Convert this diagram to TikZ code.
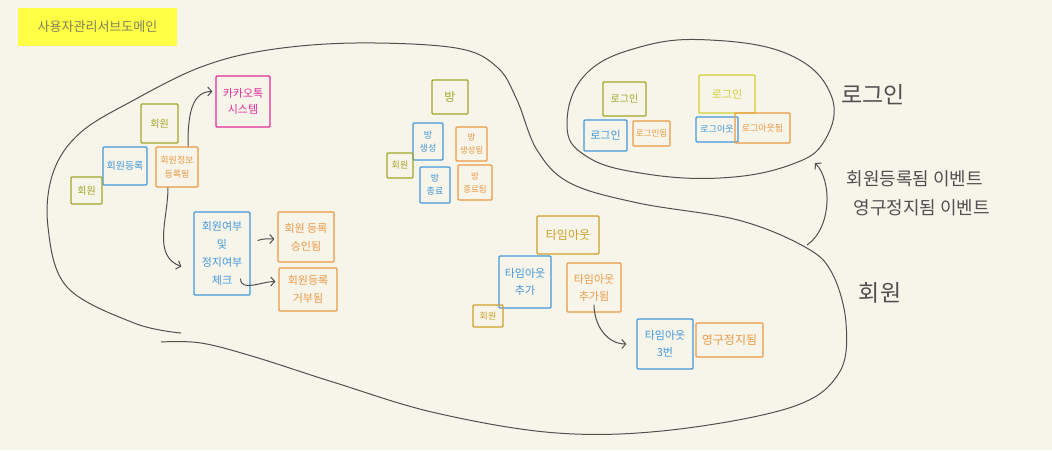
\documentclass[tikz,border=0pt]{standalone}
\usepackage{fontspec}
\setmainfont{Noto Sans CJK KR}
\usetikzlibrary{positioning,arrows.meta}
\definecolor{paper}{RGB}{247,244,233}
\definecolor{aggrolive}{RGB}{162,166,40}
\definecolor{lemon}{RGB}{208,208,52}
\definecolor{gold}{RGB}{206,160,40}
\definecolor{cmdblue}{RGB}{66,152,220}
\definecolor{evorange}{RGB}{236,154,70}
\definecolor{extpink}{RGB}{226,44,156}
\definecolor{pen}{RGB}{80,80,80}
\definecolor{sticky}{RGB}{255,255,70}
\definecolor{stickytext}{RGB}{128,128,92}
\tikzset{>={Straight Barb[length=4pt,width=9pt]}}
\newcommand*{\fs}[2]{\fontsize{#1}{#2}\selectfont}
\tikzset{
  note/.style={draw,align=center,inner sep=1pt,line width=1.2pt,rounded corners=1pt,font=\fs{10}{12}},
  aggr/.style={note,draw=aggrolive,text=aggrolive},
  cmd/.style={note,draw=cmdblue,text=cmdblue},
  evt/.style={note,draw=evorange,text=evorange},
  ext/.style={note,draw=extpink,text=extpink},
  pencil/.style={draw=pen,line width=1pt},
}

\begin{document}
\begin{tikzpicture}[x=1pt,y=-1pt]
\useasboundingbox[fill=paper] (0,0) rectangle (1052,450);
\fill[sticky] (18,8) rectangle (177,46);
\node[text=stickytext,font=\fs{13}{15}] (title) at (97.5,27) {사용자관리서브도메인};
% bounded contexts
\draw[pencil] plot[smooth,tension=0.6] coordinates {(181,333) (134,323) (67,287) (48,227) (53,173) (80,133) (134,100) (201,67) (268,50) (356,43) (456,48) (497,67) (517,100) (537,150) (570,183) (638,203) (738,220) (805,247) (832,273) (846,323) (839,373) (792,407) (671,430) (557,433) (436,413) (336,383) (255,357) (201,343) (161,342)};
\draw[pencil] plot[smooth cycle,tension=0.7] coordinates {(567,125) (585,75) (640,47) (710,40) (790,55) (831,95) (825,140) (790,165) (720,178) (640,173) (586,156)};
\node[text=pen,font=\fs{23}{25}] (lblLogin) at (873,95) {로그인};
\node[text=pen,font=\fs{23}{25}] (lblMember) at (880,293) {회원};
\coordinate (evFrom) at (807,245);
\coordinate (evTo) at (815,163);
\draw[pencil,->] (evFrom) .. controls (832,228) and (832,180) .. (evTo);
\node[text=pen,font=\fs{18}{20},anchor=west] (evList1) at (843,179) {회원등록됨 이벤트};
\node[text=pen,font=\fs{18}{20},anchor=west] (evList2) at (850,208) {영구정지됨 이벤트};
% member
\node[aggr,minimum width=37,minimum height=39] (agMember) at (159.5,123.5) {회원};
\node[cmd,minimum width=44,minimum height=38] (cmdRegister) at (125,166) {회원등록};
\node[evt,minimum width=42,minimum height=40,font=\fs{9}{14}] (evRegistered) at (177,167) {회원정보\\등록됨};
\node[aggr,minimum width=31,minimum height=27] (actMember) at (86.5,190.5) {회원};
\node[ext,minimum width=54,minimum height=51,font=\fs{11}{16}] (extKakao) at (243,101.5) {카카오톡\\시스템};
\node[cmd,minimum width=56,minimum height=83,font=\fs{11}{18}] (cmdCheck) at (222,253.5) {회원여부\\및\\정지여부\\체크};
\node[evt,minimum width=56,minimum height=50,font=\fs{11}{18}] (evApproved) at (306,237) {회원 등록\\승인됨};
\node[evt,minimum width=58,minimum height=43,font=\fs{11}{18}] (evRejected) at (308,289.5) {회원등록\\거부됨};
\draw[pencil,->] ([xshift=11]evRegistered.north) to[out=90,in=180] ([xshift=-3,yshift=10]extKakao.west);
\draw[pencil,->] ([xshift=-9]evRegistered.south) to[out=-90,in=160] ([xshift=-12,yshift=-13]cmdCheck.west);
\draw[pencil,->] ([shift={(7,-13)}]cmdCheck.east) to[out=20,in=180] ([xshift=-3,yshift=-2]evApproved.west);
\draw[pencil,->] ([shift={(-10,-17)}]cmdCheck.south east) to[out=-90,in=180] ([xshift=-3,yshift=8]evRejected.west);
% room
\node[aggr,minimum width=36,minimum height=34,font=\fs{12}{14}] (agRoom) at (450,97) {방};
\node[cmd,minimum width=30,minimum height=37,font=\fs{9}{13}] (cmdRoomCreate) at (428,141.5) {방\\생성};
\node[evt,minimum width=31,minimum height=34,font=\fs{8.5}{13}] (evRoomCreated) at (471.5,144) {방\\생성됨};
\node[aggr,minimum width=26,minimum height=25,font=\fs{9}{10}] (actMember2) at (400,165.5) {회원};
\node[cmd,minimum width=30,minimum height=36,font=\fs{9}{13}] (cmdRoomClose) at (435,185) {방\\종료};
\node[evt,minimum width=34,minimum height=35,font=\fs{8.5}{13}] (evRoomClosed) at (475,182.5) {방\\종료됨};
% timeout
\node[note,draw=gold,text=gold,minimum width=62,minimum height=38,font=\fs{12}{14}] (agTimeout) at (568,235) {타임아웃};
\node[cmd,minimum width=52,minimum height=52,font=\fs{11}{17}] (cmdTimeoutAdd) at (525,282) {타임아웃\\추가};
\node[note,draw=gold,text=gold,minimum width=30,minimum height=22,font=\fs{9}{10}] (actMember3) at (488,316) {회원};
\node[evt,minimum width=54,minimum height=49,font=\fs{11}{17}] (evTimeoutAdded) at (594,287.5) {타임아웃\\추가됨};
\node[cmd,minimum width=56,minimum height=50,font=\fs{11}{17}] (cmdTimeout3) at (665,344) {타임아웃\\3번};
\node[evt,minimum width=67,minimum height=34,font=\fs{12}{14}] (evBanned) at (729.5,340) {영구정지됨};
\draw[pencil,->] ([yshift=8]evTimeoutAdded.south) to[out=-90,in=180] ([xshift=-10]cmdTimeout3.west);
% login
\node[aggr,minimum width=43,minimum height=34] (agLogin) at (624.5,99) {로그인};
\node[cmd,minimum width=43,minimum height=31,font=\fs{11}{13}] (cmdLogin) at (605.5,135.5) {로그인};
\node[evt,minimum width=37,minimum height=25,font=\fs{8.5}{10}] (evLoggedIn) at (651.5,133.5) {로그인됨};
\node[note,draw=lemon,text=lemon,minimum width=56,minimum height=38,font=\fs{11}{13}] (agLogin2) at (727,94) {로그인};
\node[cmd,minimum width=42,minimum height=25,font=\fs{9}{10}] (cmdLogout) at (717,129.5) {로그아웃};
\node[evt,minimum width=55,minimum height=30,font=\fs{9}{10}] (evLoggedOut) at (762.5,128) {로그아웃됨};
\end{tikzpicture}
\end{document}
